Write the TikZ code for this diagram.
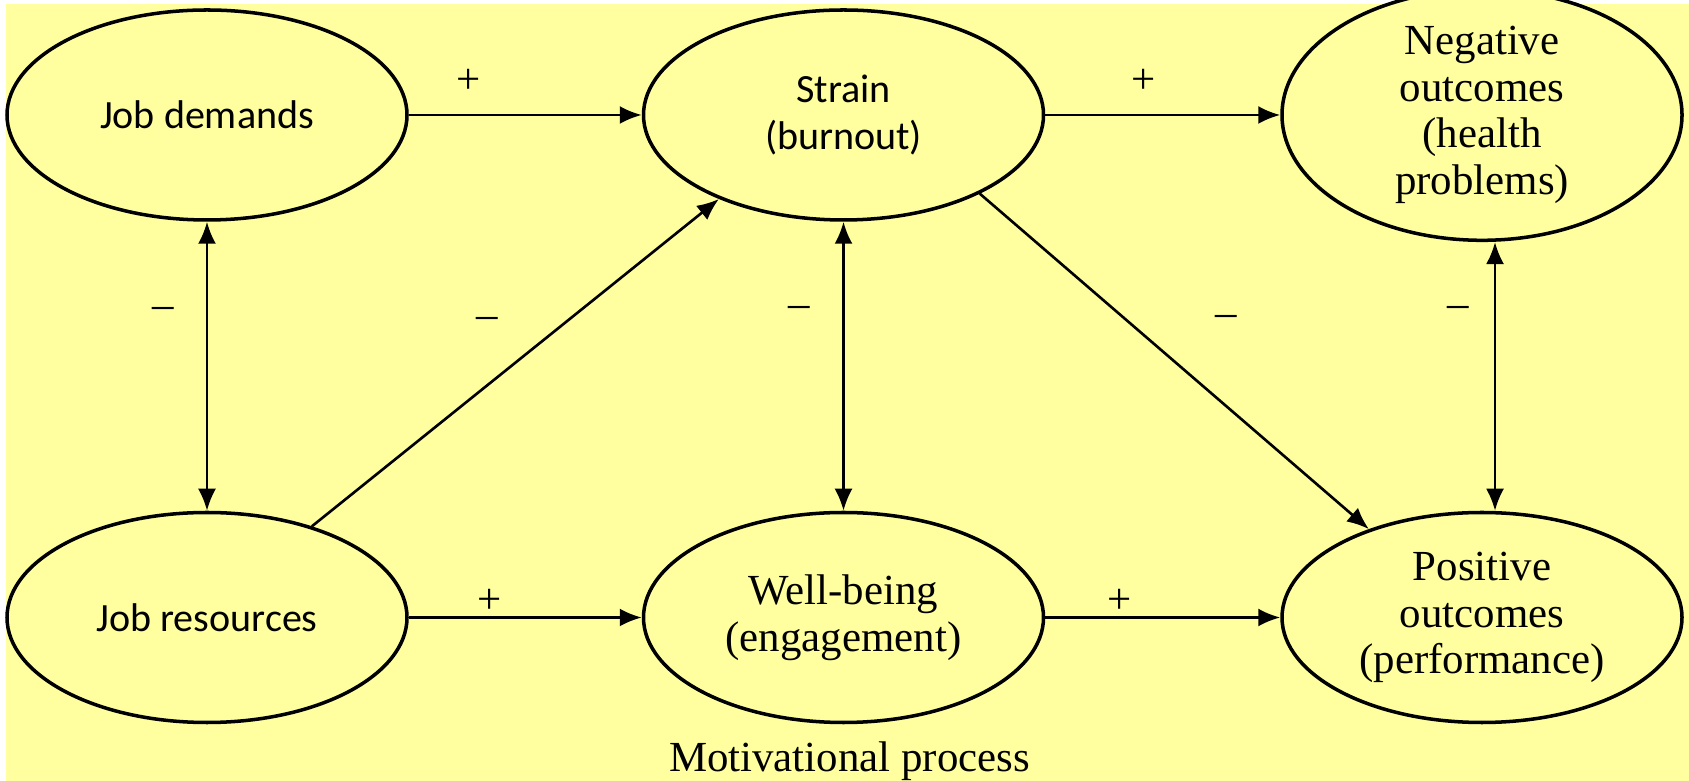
\documentclass[tikz,border=0pt]{standalone}
\usepackage{fontspec}
\setmainfont{Liberation Serif}
\newfontfamily\labfont{Carlito}
\usepackage{tikz}
\usetikzlibrary{shapes,arrows.meta}
\definecolor{paper}{RGB}{255,255,160}

\begin{document}
\begin{tikzpicture}[
    blob/.style={ellipse,draw,line width=2pt,fill=paper,minimum width=8cm,minimum height=4.2cm,inner sep=0pt,align=center},
    sanstext/.style={font=\labfont\fontsize{22.8}{27.3}\selectfont},
    seriftext/.style={font=\fontsize{24.4}{26.5}\selectfont},
    sign/.style={font=\fontsize{24.4}{26}\selectfont},
    link/.style={line width=1.5pt,-{Latex[length=4.4mm,width=3.6mm]}},
    both/.style={line width=1.5pt,{Latex[length=4.4mm,width=3.6mm]}-{Latex[length=4.4mm,width=3.6mm]}}]
        \useasboundingbox (0,0) rectangle (33.78,15.62);
        \fill[white] (0,0) rectangle (33.78,15.62);
        \fill[paper] (0.11,0) rectangle (33.78,15.54);
        \node[blob,sanstext] (a0) at (4.14,13.32) {Job demands};
        \node[blob,sanstext] (a1) at (4.14,3.27) {Job resources};
        \node[blob,sanstext] (b0) at (16.87,13.32) {Strain\\(burnout)};
        \node[blob,seriftext] (b1) at (16.87,3.27) {Well-being\\(engagement)};
        \node[blob,seriftext] (c0) at (29.64,13.32) {Negative\\outcomes\\(health\\problems)};
        \node[blob,seriftext] (c1) at (29.64,3.27) {Positive\\outcomes\\(performance)};
        \draw[link] (a0) -- (b0);
        \draw[link] (b0) -- (c0);
        \draw[link] (a1) -- (b1);
        \draw[link] (b1) -- (c1);
        \draw[both] (a0) -- (a1);
        \draw[both] (b0) -- (b1);
        \draw[both] ([xshift=2.6mm]c0.south) -- ([xshift=2.6mm]c1.north);
        \draw[link] (a1.41) -- (b0.214);
        \draw[link] (b0.-30) -- (c1.142);
        \node[sign] (p1) at (9.37,14.0) {+};
        \node[sign] (p2) at (22.88,14.0) {+};
        \node[sign] (p3) at (9.8,3.6) {+};
        \node[sign] (p4) at (22.4,3.6) {+};
        \node[sign] (m1) at (3.26,9.36) {–};
        \node[sign] (m2) at (9.74,9.16) {–};
        \node[sign] (m3) at (15.98,9.38) {–};
        \node[sign] (m4) at (24.52,9.2) {–};
        \node[sign] (m5) at (29.16,9.38) {–};
        \node[seriftext,anchor=base] (cap) at (16.99,0.2) {Motivational process};
    \end{tikzpicture}
\end{document}
